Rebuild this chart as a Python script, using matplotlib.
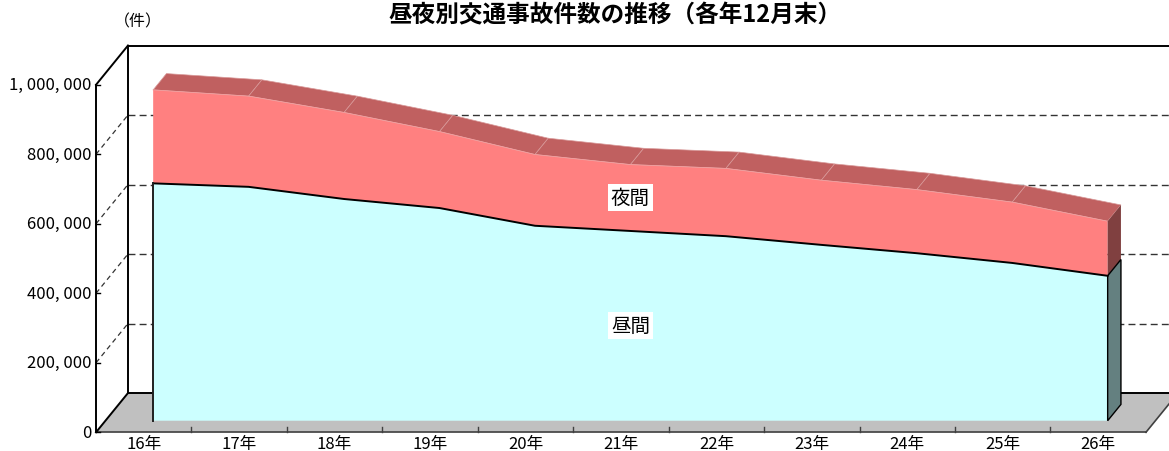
import matplotlib
matplotlib.use('Agg')
import matplotlib.pyplot as plt
from matplotlib.patches import Polygon
import numpy as np

plt.rcParams['font.family'] = ['Noto Sans CJK JP', 'DejaVu Sans']

# ---------------- data ----------------
years = ['16年', '17年', '18年', '19年', '20年', '21年', '22年', '23年', '24年', '25年', '26年']
day_counts = [683000, 673000, 638000, 612000, 561000, 546000, 531000, 506000, 482000, 454000, 417000]
night_counts = [269000, 261000, 249000, 220000, 205000, 191000, 195000, 186000, 183000, 175000, 157000]
series_names = ['昼間', '夜間']
y_ticks = [0, 200000, 400000, 600000, 800000, 1000000]
y_tick_labels = ['0', '200, 000', '400, 000', '600, 000', '800, 000', '1, 000, 000']
title = '昼夜別交通事故件数の推移（各年12月末）'
unit_label = '（件）'

# ---------------- layout (pixels of the 1169x452 canvas) ----------------
W, H = 1169, 452
X0PX = 96.0        # front-left corner of floor
CATPX = 95.45      # width of one category on the front plane
Y0PX = 433.3       # zero level on the front plane
PXPERV = 347.5e-6  # pixels per unit value
DEPTH_DX_PX = 32.0
DEPTH_DY_PX = 39.3
D_FRONT, D_BACK = 0.295, 0.71

fig = plt.figure(figsize=(W / 100, H / 100), dpi=100)
ax = fig.add_axes([0, 0, 1, 1])
ax.axis('off')
xl = -0.5 - X0PX / CATPX
ax.set_xlim(xl, xl + W / CATPX)
ax.set_ylim(-(H - Y0PX) / PXPERV, Y0PX / PXPERV)

DX = DEPTH_DX_PX / CATPX
DY = DEPTH_DY_PX / PXPERV
n = len(years)
xmax = n - 0.5
vmax = y_ticks[-1]


def P(x, v, d):
    return (x + d * DX, v + d * DY)


def line(pts, **kw):
    xs, ys = zip(*pts)
    ax.plot(xs, ys, **kw)


# back wall gridlines
for v in y_ticks[1:-1]:
    line([P(-0.5, v, 1), P(xmax + 1, v, 1)], color='#333333', lw=1.0,
         dashes=(5, 3), zorder=1)
# side wall diagonals
for v in y_ticks[1:-1]:
    line([P(-0.5, v, 0), P(-0.5, v, 1)], color='#333333', lw=0.9,
         dashes=(4, 3), zorder=1)

# floor
floor = Polygon([P(-0.5, 0, 0), P(xmax, 0, 0), P(xmax, 0, 1), P(-0.5, 0, 1)],
                closed=True, fc='#C0C0C0', ec='none', zorder=2)
ax.add_patch(floor)
line([P(-0.5, 0, 0), P(xmax, 0, 0)], color='#404040', lw=1.2, zorder=3)
line([P(xmax, 0, 0), P(xmax, 0, 1)], color='#404040', lw=1.2, zorder=3)
line([P(-0.5, 0, 0), P(-0.5, 0, 1)], color='black', lw=1.4, zorder=3)
line([P(-0.5, 0, 1), P(xmax + 1, 0, 1)], color='black', lw=1.4, zorder=3)
# floor ticks
tick_len = 5 / PXPERV
for b in np.arange(0.5, n - 1, 1.0):
    line([(b, 0), (b, tick_len)], color='#404040', lw=1.0, zorder=3)

# walls edges
line([P(-0.5, 0, 0), P(-0.5, vmax, 0)], color='black', lw=1.4, zorder=3)
line([P(-0.5, vmax, 0), P(-0.5, vmax, 1)], color='black', lw=1.4, zorder=3)
line([P(-0.5, 0, 1), P(-0.5, vmax, 1)], color='black', lw=1.4, zorder=3)
line([P(-0.5, vmax, 1), P(xmax + 1, vmax, 1)], color='black', lw=1.4, zorder=3)
# y ticks
for v in y_ticks:
    line([P(-0.5, v, 0), (P(-0.5, v, 0)[0] + 4 / CATPX, v)], color='black', lw=1.0, zorder=3)

# ---------------- 3D area ----------------
day = np.array(day_counts, dtype=float)
top = day + np.array(night_counts, dtype=float)
xs = np.arange(n)

# night top face
for i in range(n - 1):
    poly = Polygon([P(xs[i], top[i], D_FRONT), P(xs[i + 1], top[i + 1], D_FRONT),
                    P(xs[i + 1], top[i + 1], D_BACK), P(xs[i], top[i], D_BACK)],
                   closed=True, fc='#C06060', ec='#D89898', lw=0.5, zorder=4)
    ax.add_patch(poly)

# night front face
pts = [P(x, v, D_FRONT) for x, v in zip(xs, top)] + \
      [P(x, v, D_FRONT) for x, v in zip(xs[::-1], day[::-1])]
ax.add_patch(Polygon(pts, closed=True, fc='#FF8080', ec='none', zorder=5))
line([P(x, v, D_FRONT) for x, v in zip(xs, top)], color='#F0A0A0', lw=0.6, zorder=5)

# day front face
pts = [P(x, v, D_FRONT) for x, v in zip(xs, day)] + \
      [P(xs[-1], 0, D_FRONT), P(xs[0], 0, D_FRONT)]
ax.add_patch(Polygon(pts, closed=True, fc='#CCFFFF', ec='none', zorder=5))

# right side faces
k = n - 1
ax.add_patch(Polygon([P(xs[k], top[k], D_FRONT), P(xs[k], day[k], D_FRONT),
                      P(xs[k], day[k], D_BACK), P(xs[k], top[k], D_BACK)],
                     closed=True, fc='#804040', ec='none', zorder=5))
ax.add_patch(Polygon([P(xs[k], day[k], D_FRONT), P(xs[k], 0, D_FRONT),
                      P(xs[k], 0, D_BACK), P(xs[k], day[k], D_BACK)],
                     closed=True, fc='#648080', ec='black', lw=1.0, zorder=6))

# boundary and day edges
line([P(x, v, D_FRONT) for x, v in zip(xs, day)], color='black', lw=1.4, zorder=7)
line([P(xs[0], 0, D_FRONT), P(xs[0], day[0], D_FRONT)], color='#202020', lw=1.4, zorder=7)

# series labels
lbl_i = 5
bbox = dict(boxstyle='square,pad=0.15', fc='white', ec='none')
ax.text(*P(xs[lbl_i], day[lbl_i] / 2, D_FRONT), series_names[0], ha='center',
        va='center', fontsize=14, color='black', bbox=bbox, zorder=8)
ax.text(*P(xs[lbl_i], day[lbl_i] + (top[lbl_i] - day[lbl_i]) / 2, D_FRONT),
        series_names[1], ha='center', va='center', fontsize=14, color='black',
        bbox=bbox, zorder=8)

# tick labels
for v, s in zip(y_ticks, y_tick_labels):
    ax.annotate(s, xy=P(-0.5, v, 0), xytext=(-3, 0), textcoords='offset points',
                ha='right', va='center', fontsize=12, color='black',
                annotation_clip=False)
for i, s in enumerate(years):
    ax.annotate(s, xy=P(xs[i], 0, 0), xytext=(0, -(449.5 - Y0PX) * 0.72),
                textcoords='offset points', ha='center', va='baseline',
                fontsize=12, color='black', annotation_clip=False)

fig.text(615 / W, 1 - 22.5 / H, title, ha='center', va='baseline', fontsize=17,
         fontweight='bold')
fig.text(138 / W, 1 - 21.7 / H, unit_label, ha='center', va='center', fontsize=11.5)

fig.savefig('out.png', dpi=100, facecolor='white')
